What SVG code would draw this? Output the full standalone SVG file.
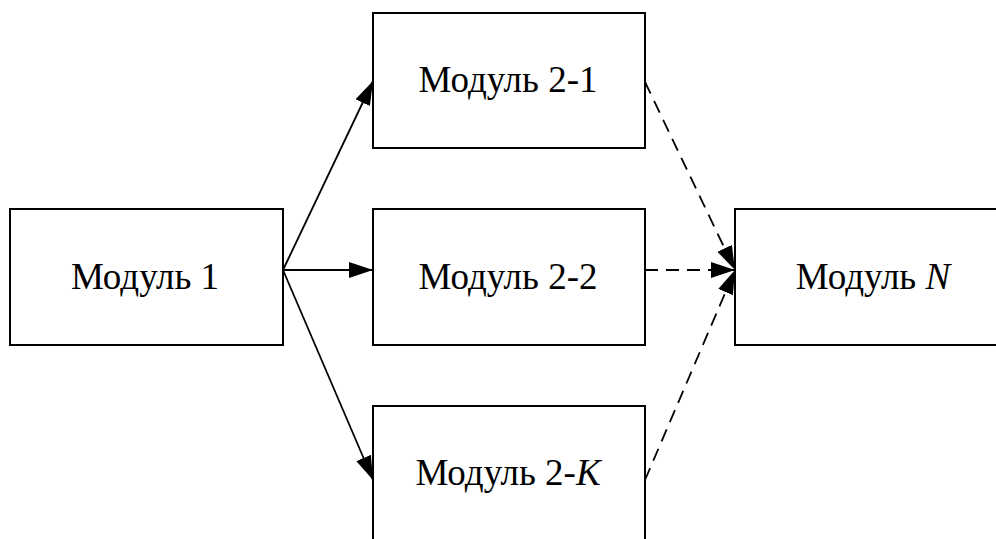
<svg xmlns="http://www.w3.org/2000/svg" width="996" height="539" viewBox="0 0 996 539">
<style>
.box{fill:#fff;stroke:#000;stroke-width:2}
.lbl{font-family:"Liberation Serif","Times New Roman",serif;font-size:37px;fill:#000;text-anchor:middle}
.ln{stroke:#000;stroke-width:1.8;fill:none}
.dash{stroke-dasharray:13 8}
</style>
<defs>
<marker id="arr" viewBox="0 0 24 16" refX="24" refY="8" markerWidth="24" markerHeight="16" markerUnits="userSpaceOnUse" orient="auto">
<path d="M0,0 L24,8 L0,16 Z" fill="#000"/>
</marker>
</defs>
<g id="node-m1"><rect class="box" x="10" y="209" width="273" height="136"/><text class="lbl" x="145" y="289">Модуль 1</text></g>
<g id="node-m21"><rect class="box" x="373" y="13" width="272" height="135"/><text class="lbl" x="508" y="92">Модуль 2-1</text></g>
<g id="node-m22"><rect class="box" x="373" y="209" width="272" height="136"/><text class="lbl" x="508" y="289">Модуль 2-2</text></g>
<g id="node-m2k"><rect class="box" x="373" y="406" width="272" height="160"/><text class="lbl" x="508" y="485">Модуль 2-<tspan font-style="italic">K</tspan></text></g>
<g id="node-mn"><rect class="box" x="735" y="209" width="290" height="136"/><text class="lbl" x="873" y="289">Модуль <tspan font-style="italic">N</tspan></text></g>
<g id="connectors">
<line class="ln" x1="283" y1="270" x2="373" y2="81" marker-end="url(#arr)"/>
<line class="ln" x1="283" y1="270" x2="373" y2="270" marker-end="url(#arr)"/>
<line class="ln" x1="283" y1="270" x2="373" y2="480" marker-end="url(#arr)"/>
<line class="ln dash" x1="645" y1="82" x2="735" y2="270" marker-end="url(#arr)"/>
<line class="ln dash" x1="645" y1="270" x2="735" y2="270" marker-end="url(#arr)"/>
<line class="ln dash" x1="645" y1="480" x2="735" y2="270" marker-end="url(#arr)"/>
</g>
</svg>
